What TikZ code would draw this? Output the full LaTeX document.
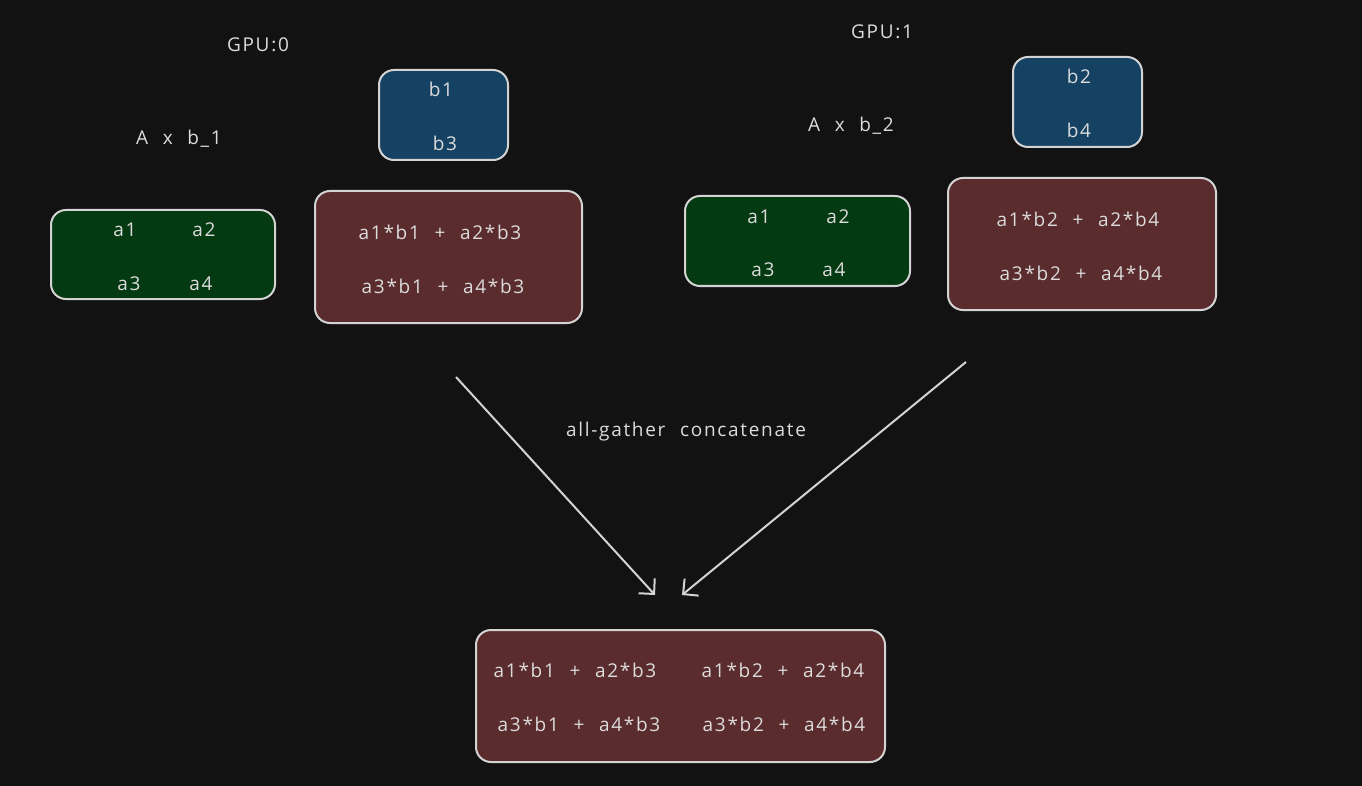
\documentclass[tikz,border=0pt]{standalone}
\usepackage{fontspec}
\setmainfont{Open Sans}[LetterSpace=9,WordSpace=2.2]
\usetikzlibrary{arrows.meta}
\definecolor{bg}{HTML}{121212}
\definecolor{strk}{HTML}{D3D3D3}
\definecolor{txt}{HTML}{DCDCDC}
\definecolor{gfill}{HTML}{043A11}
\definecolor{bfill}{HTML}{154163}
\definecolor{rfill}{HTML}{5B2C2D}
\begin{document}
\begin{tikzpicture}[x=1pt,y=-1pt,
  box/.style={draw=strk,line width=2pt,rounded corners=15pt},
  lbl/.style={text=txt,font=\fontsize{19}{22}\selectfont,inner sep=0pt},
  conn/.style={draw=strk,line width=2pt,-{Straight Barb[length=11pt,width=22pt,line width=2pt]}}]
\fill[bg] (0,0) rectangle (1362,786);
\useasboundingbox (0,0) rectangle (1362,786);
% GPU 0
\node[lbl] (g0) at (258,45) {GPU:0};
\node[lbl] (ab1) at (179,139) {A x b\_1};
\node[box,fill=gfill,minimum width=224pt,minimum height=89pt] (A0) at (163,254.5) {};
\node[lbl] (a01) at (125,230) {a1};
\node[lbl] (a02) at (204,230) {a2};
\node[lbl] (a03) at (129,284) {a3};
\node[lbl] (a04) at (201,284) {a4};
\node[box,fill=bfill,minimum width=129pt,minimum height=90pt] (B0) at (443.5,115) {};
\node[lbl] (b01) at (441,89) {b1};
\node[lbl] (b03) at (445,143) {b3};
\node[box,fill=rfill,minimum width=267pt,minimum height=132pt] (R0) at (448.5,257) {};
\node[lbl] (r01) at (440,232) {a1*b1 + a2*b3};
\node[lbl] (r02) at (443,286) {a3*b1 + a4*b3};
% GPU 1
\node[lbl] (g1) at (882,32) {GPU:1};
\node[lbl] (ab2) at (851,126) {A x b\_2};
\node[box,fill=gfill,minimum width=225pt,minimum height=90pt] (A1) at (797.5,241) {};
\node[lbl] (a11) at (759,217) {a1};
\node[lbl] (a12) at (838,217) {a2};
\node[lbl] (a13) at (763,270) {a3};
\node[lbl] (a14) at (834,270) {a4};
\node[box,fill=bfill,minimum width=129pt,minimum height=90pt] (B1) at (1077.5,102) {};
\node[lbl] (b12) at (1079,76) {b2};
\node[lbl] (b14) at (1079,130) {b4};
\node[box,fill=rfill,minimum width=268pt,minimum height=132pt] (R1) at (1082,244) {};
\node[lbl] (r11) at (1078,219) {a1*b2 + a2*b4};
\node[lbl] (r12) at (1081,273) {a3*b2 + a4*b4};
% result
\node[box,fill=rfill,minimum width=409pt,minimum height=132pt] (R) at (680.5,696) {};
\node[lbl] (rr1) at (575,670) {a1*b1 + a2*b3};
\node[lbl] (rr2) at (783,670) {a1*b2 + a2*b4};
\node[lbl] (rr3) at (579,724) {a3*b1 + a4*b3};
\node[lbl] (rr4) at (784,724) {a3*b2 + a4*b4};
% arrows
\coordinate (s1) at (456,377);
\coordinate (e1) at (655,595);
\coordinate (s2) at (966,362);
\coordinate (e2) at (682,595);
\draw[conn] (s1) -- (e1);
\draw[conn] (s2) -- (e2);
\node[lbl] (ag) at (686,432) {all-gather concatenate};
\end{tikzpicture}
\end{document}
